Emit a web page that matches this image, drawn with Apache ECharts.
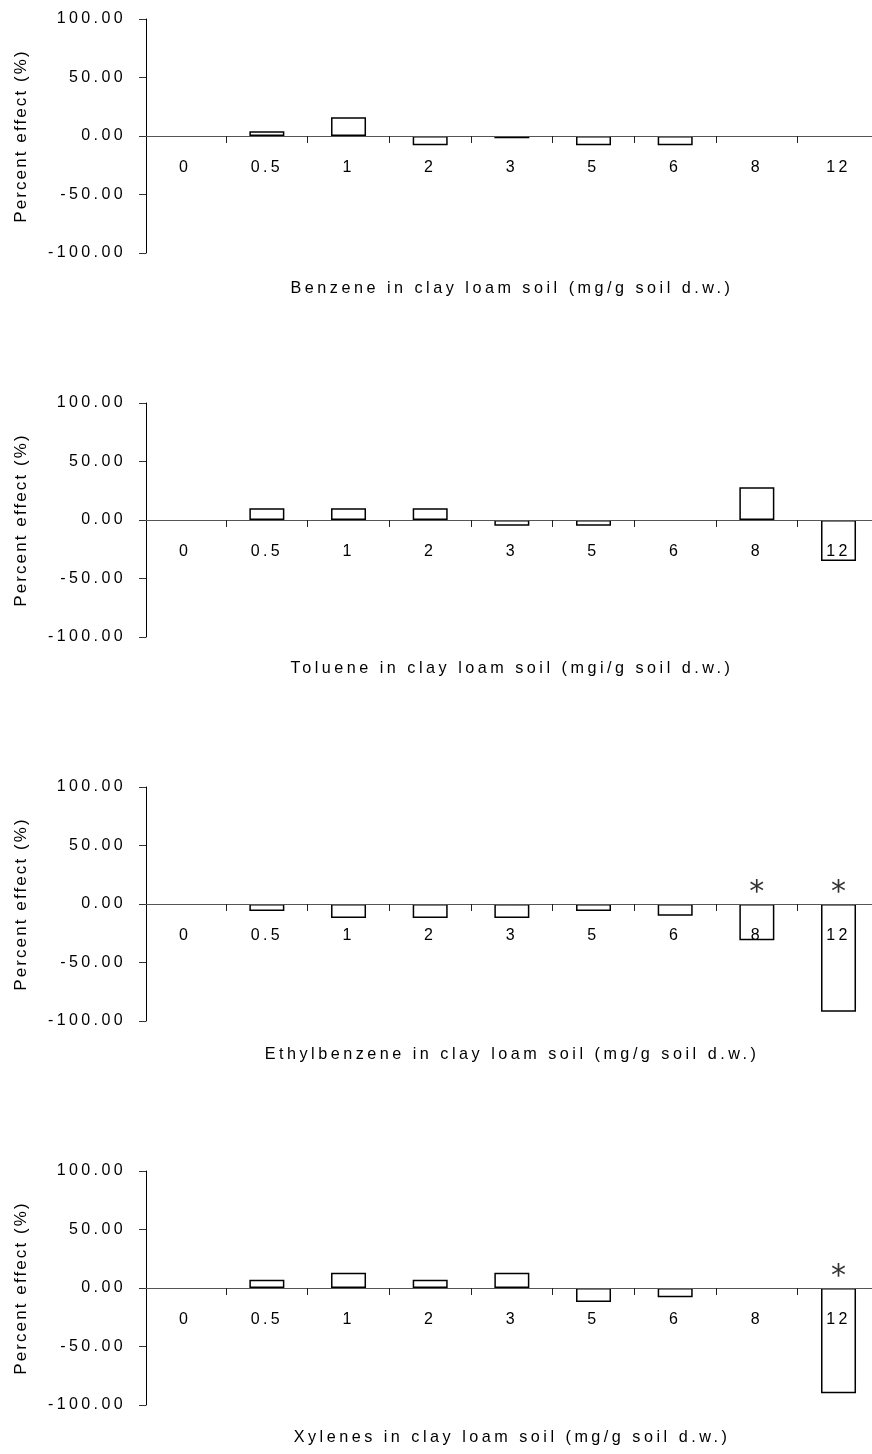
<!DOCTYPE html>
<html>
<head>
<meta charset="utf-8">
<script src="https://cdn.jsdelivr.net/npm/echarts@6/dist/echarts.min.js"></script>
<style>
  html, body { margin: 0; padding: 0; background: #fff; }
  #chart { width: 872px; height: 1454px; }
</style>
</head>
<body>
<div id="chart"></div>
<script>
// Dose levels (mg/g soil d.w.) shared by all four panels
const doses = ['0', '0.5', '1', '2', '3', '5', '6', '8', '12'];

// Percent effect relative to the control, one array per compound
const benzene      = [0, 4, 16, -8, -2, -8, -8, 0, 0];
const toluene      = [0, 10, 10, 10, -5, -5, 0, 28, -35];
const ethylbenzene = [0, -6, -12, -12, -12, -6, -10, -31, -92];
const xylenes      = [0, 7, 13, 7, 13, -12, -8, 0, -90];

// Doses marked as significantly different from the control
const benzeneSig      = [];
const tolueneSig      = [];
const ethylbenzeneSig = ['8', '12'];
const xylenesSig      = ['12'];

// Axis captions
const panelTitles = [
  'Benzene in clay loam soil (mg/g soil d.w.)',
  'Toluene in clay loam soil (mgi/g soil d.w.)',
  'Ethylbenzene in clay loam soil (mg/g soil d.w.)',
  'Xylenes in clay loam soil (mg/g soil d.w.)'
];
const yName = 'Percent effect (%)';
const yMin = -100, yMax = 100, yStep = 50;

const panels = [
  { values: benzene, sig: benzeneSig },
  { values: toluene, sig: tolueneSig },
  { values: ethylbenzene, sig: ethylbenzeneSig },
  { values: xylenes, sig: xylenesSig }
];

// Spaced-out lettering for the captions (keyed by font size)
const LETTER_SPACING = { '16px': '3.4px', '16.2px': '3.5px', '17px': '2.1px' };
(function () {
  const proto = CanvasRenderingContext2D.prototype;
  const baseFill = proto.fillText;
  proto.fillText = function (text, x, y, maxWidth) {
    const m = /(\d+(?:\.\d+)?px)/.exec(this.font || '');
    const sp = m && LETTER_SPACING[m[1]];
    if ('letterSpacing' in this) this.letterSpacing = sp || '0px';
    return maxWidth === undefined
      ? baseFill.call(this, text, x, y)
      : baseFill.call(this, text, x, y, maxWidth);
  };
})();

const FONT = '"Liberation Sans", Arial, Helvetica, sans-serif';
const PANEL_TOP = [19, 403, 787, 1171];
const PANEL_H = 234;
const TITLE_Y = [291, 671, 1057, 1440];

const grid = [], xAxis = [], yAxis = [], series = [], title = [];
const tickPositions = doses.slice(0, -1).map((d, i) => i + 0.5);
const labelPositions = doses.map((d, i) => i);
// the dose axis sits on the 0 % line, halfway up each panel
const zeroOffset = -PANEL_H * (0 - yMin) / (yMax - yMin);

panels.forEach((p, k) => {
  grid.push({ left: 146, right: 0, top: PANEL_TOP[k], height: PANEL_H, containLabel: false });
  xAxis.push({
    gridIndex: k,
    type: 'value',
    position: 'bottom',
    offset: zeroOffset,
    min: -0.48,
    max: 8.41,
    axisLine: { onZero: false, lineStyle: { color: '#555', width: 1 } },
    axisTick: { show: true, customValues: tickPositions, length: 7, lineStyle: { color: '#222', width: 1 } },
    axisLabel: {
      customValues: labelPositions,
      formatter: v => doses[Math.round(v)],
      margin: 24,
      color: '#000',
      fontFamily: FONT,
      fontSize: 16
    },
    splitLine: { show: false },
    z: 5
  });
  yAxis.push({
    gridIndex: k,
    type: 'value',
    min: yMin,
    max: yMax,
    interval: yStep,
    name: yName,
    nameLocation: 'middle',
    nameGap: 116,
    nameTextStyle: { color: '#000', fontFamily: FONT, fontSize: 17 },
    axisLine: { show: true, onZero: false, lineStyle: { color: '#000', width: 1 } },
    axisTick: { show: true, length: 7, lineStyle: { color: '#333', width: 1 } },
    axisLabel: {
      formatter: v => v.toFixed(2),
      margin: 20,
      color: '#000',
      fontFamily: FONT,
      fontSize: 16
    },
    splitLine: { show: false }
  });
  title.push({
    text: panelTitles[k],
    left: 512,
    top: TITLE_Y[k] - 10,
    textAlign: 'center',
    padding: 0,
    textStyle: { color: '#000', fontFamily: FONT, fontSize: 16.2, fontWeight: 'normal' }
  });
  series.push({
    type: 'bar',
    xAxisIndex: k,
    yAxisIndex: k,
    barWidth: 35,
    silent: true,
    itemStyle: { color: 'rgba(255,255,255,0)', borderColor: '#000', borderWidth: 1.5 },
    data: p.values.map((v, i) => v === 0
      ? { value: [i, v], itemStyle: { borderWidth: 0 } }
      : [i, v]),
    z: 3
  });
  series.push({
    type: 'scatter',
    xAxisIndex: k,
    yAxisIndex: k,
    symbolSize: 0,
    silent: true,
    data: p.sig.map(d => [doses.indexOf(d), 0]),
    label: {
      show: true,
      formatter: '*',
      position: 'inside',
      offset: [0, -10.5],
      color: '#000',
      fontFamily: '"DejaVu Sans", sans-serif',
      fontSize: 30
    },
    z: 4
  });
});

const chart = echarts.init(document.getElementById('chart'), null, { renderer: 'canvas' });
chart.setOption({
  animation: false,
  backgroundColor: '#fff',
  title, grid, xAxis, yAxis, series
});
</script>
</body>
</html>
